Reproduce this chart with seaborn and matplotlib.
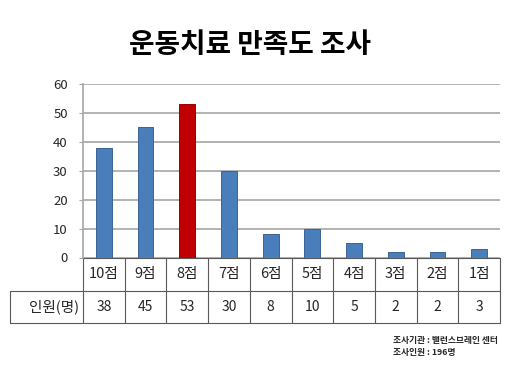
import matplotlib
matplotlib.use("Agg")
import matplotlib.pyplot as plt
import matplotlib.transforms as mtransforms
import seaborn as sns
import pandas as pd

# Data
categories = ['10점', '9점', '8점', '7점', '6점', '5점', '4점', '3점', '2점', '1점']
counts = [38, 45, 53, 30, 8, 10, 5, 2, 2, 3]
row_label = '인원(명)'
highlight = '8점'
yticks = [0, 10, 20, 30, 40, 50, 60]
title = '운동치료 만족도 조사'
notes = ['조사기관 : 밸런스브레인 센터', '조사인원 : 196명']

BLUE = '#4a7ebb'
RED = '#c00000'
GRID = '#a6a6a6'
TBL = '#595959'

sns.set_style('white')
plt.rcParams['font.family'] = ['Noto Sans CJK KR', 'DejaVu Sans']

df = pd.DataFrame({'score': categories, 'count': counts})
palette = {c: (RED if c == highlight else BLUE) for c in categories}

fig = plt.figure(figsize=(5.2, 3.66), dpi=100)
ax_h = 173.5  # axes height in px
ax = fig.add_axes([83 / 520, 1 - 257.5 / 366, 417 / 520, ax_h / 366])

sns.barplot(data=df, x='score', y='count', hue='score', palette=palette,
            legend=False, width=0.38, saturation=1, ax=ax,
            linewidth=0, zorder=3)
# slightly darker outline like the original
for bar in ax.patches:
    r, g, b, _ = bar.get_facecolor()
    bar.set_edgecolor((r * 0.8, g * 0.8, b * 0.8))
    bar.set_linewidth(0.7)

ax.set_ylim(0, 60)
ax.set_xlim(-0.5, len(categories) - 0.5)
ax.set_yticks(yticks)
ax.yaxis.grid(True, color=GRID, linewidth=1.2, zorder=0)
ax.set_axisbelow(True)
ax.set_xlabel('')
ax.set_ylabel('')
ax.set_xticks([])
ax.tick_params(axis='y', labelsize=9.5, length=3, color=GRID, pad=8, left=True)
for side in ['top', 'right', 'bottom']:
    ax.spines[side].set_visible(False)
ax.spines['left'].set_color(GRID)
ax.spines['left'].set_linewidth(1.2)

# data table under the bars: x in data units, y in axes fraction
trans = mtransforms.blended_transform_factory(ax.transData, ax.transAxes)
n = len(categories)
row1 = -33 / ax_h
row2 = -65.5 / ax_h
lab_left = -0.5 - 73 / 41.7
kw = dict(color=TBL, lw=0.8, transform=trans, clip_on=False)
ax.plot([-0.5, n - 0.5], [0, 0], **kw)
ax.plot([lab_left, n - 0.5], [row1, row1], **kw)
ax.plot([lab_left, n - 0.5], [row2, row2], **kw)
for i in range(n + 1):
    ax.plot([i - 0.5, i - 0.5], [0, row2], **kw)
ax.plot([lab_left, lab_left], [row1, row2], **kw)

for i, (cat, v) in enumerate(zip(categories, counts)):
    ax.text(i, row1 / 2, cat, ha='center', va='center', fontsize=10.5,
            transform=trans)
    ax.text(i, (row1 + row2) / 2, str(v), ha='center', va='center',
            fontsize=10, transform=trans)
ax.text(-0.5 - 4 / 41.7, (row1 + row2) / 2, row_label, ha='right',
        va='center', fontsize=10.5, transform=trans)

fig.text(250 / 520, 1 - 45 / 366, title, ha='center', va='center',
         fontsize=20, fontweight='bold', color='black')
fig.text(393 / 520, 1 - 340 / 366, notes[0], ha='left', va='center',
         fontsize=6.3, fontweight='bold')
fig.text(393 / 520, 1 - 353 / 366, notes[1], ha='left', va='center',
         fontsize=6.3, fontweight='bold')

fig.savefig('out.png', dpi=100)
